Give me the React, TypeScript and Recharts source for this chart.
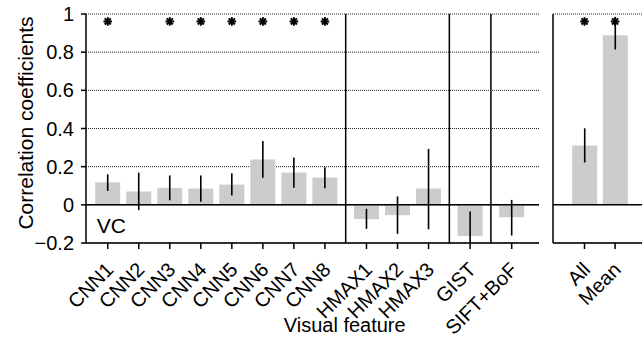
import React from 'react';
import {
  ComposedChart,
  Bar,
  ErrorBar,
  XAxis,
  YAxis,
  CartesianGrid,
  ReferenceLine,
  Scatter,
} from 'recharts';

// ---------- data ----------
const featureGroups: string[][] = [
  ['CNN1', 'CNN2', 'CNN3', 'CNN4', 'CNN5', 'CNN6', 'CNN7', 'CNN8'],
  ['HMAX1', 'HMAX2', 'HMAX3'],
  ['GIST'],
  ['SIFT+BoF'],
];
const featureMeans = [0.118, 0.07, 0.089, 0.085, 0.106, 0.237, 0.169, 0.143, -0.075, -0.054, 0.085, -0.164, -0.065];
const featureLow = [0.073, -0.028, 0.024, 0.016, 0.049, 0.142, 0.089, 0.087, -0.126, -0.152, -0.128, -0.2, -0.161];
const featureHigh = [0.16, 0.169, 0.154, 0.154, 0.166, 0.335, 0.248, 0.197, -0.021, 0.044, 0.293, -0.035, 0.026];
const featureSig = [true, false, true, true, true, true, true, true, false, false, false, false, false];

const summaryLabels = ['All', 'Mean'];
const summaryMeans = [0.311, 0.889];
const summaryLow = [0.222, 0.814];
const summaryHigh = [0.401, 0.985];
const summarySig = [true, true];

const yTicks = [-0.2, 0, 0.2, 0.4, 0.6, 0.8, 1];

// ---------- layout helpers ----------
const FONT = '"Liberation Sans", Arial, Helvetica, sans-serif';
const GROUP_GAP = 0.34;
const STAR_Y = 0.961;
const Y_DOMAIN: [number, number] = [-0.2, 1];

type Row = { pos: number; name: string; mean: number; err: [number, number]; star: number | null };

const featureRows: Row[] = [];
const separators: number[] = [];
{
  let p = 0;
  let k = 0;
  featureGroups.forEach((g, gi) => {
    if (gi > 0) {
      const prev = featureRows[featureRows.length - 1].pos;
      p += GROUP_GAP;
      separators.push((prev + p) / 2);
    }
    g.forEach((name) => {
      featureRows.push({
        pos: p,
        name,
        mean: featureMeans[k],
        err: [featureMeans[k] - featureLow[k], featureHigh[k] - featureMeans[k]],
        star: featureSig[k] ? STAR_Y : null,
      });
      p += 1;
      k += 1;
    });
  });
}

const summaryRows: Row[] = summaryLabels.map((name, i) => ({
  pos: i,
  name,
  mean: summaryMeans[i],
  err: [summaryMeans[i] - summaryLow[i], summaryHigh[i] - summaryMeans[i]],
  star: summarySig[i] ? STAR_Y : null,
}));

const fmtY = (v: number) => {
  if (v === 0) return '0';
  if (v < 0) return '\u2212' + String(Math.abs(v));
  return String(v);
};

const makeTick = (rows: Row[]) => (props: any) => {
  const { x, y, payload } = props;
  const r = rows.find((d) => Math.abs(d.pos - payload.value) < 1e-6);
  const rx = x + 2;
  const ry = y + 15;
  return (
    <text
      x={rx}
      y={ry}
      dy="0.35em"
      transform={`rotate(-45, ${rx}, ${ry})`}
      textAnchor="end"
      fontSize={20}
      fontFamily={FONT}
      fill="#000"
    >
      {r ? r.name : ''}
    </text>
  );
};

const Star = (props: any) => {
  const { cx, cy } = props;
  if (cx == null || cy == null) return null;
  const r = 4.3;
  return (
    <g stroke="#000" strokeWidth={2}>
      {[0, 45, 90, 135].map((a) => {
        const rad = (a * Math.PI) / 180;
        return (
          <line
            key={a}
            x1={cx - r * Math.cos(rad)}
            y1={cy - r * Math.sin(rad)}
            x2={cx + r * Math.cos(rad)}
            y2={cy + r * Math.sin(rad)}
          />
        );
      })}
    </g>
  );
};

const YLabel = (props: any) => {
  const vb = props.viewBox || {};
  const x = (vb.x ?? 0) + 33;
  const y = (vb.y ?? 0) + (vb.height ?? 0) / 2 - 5.5;
  return (
    <text x={x} y={y} transform={`rotate(-90, ${x}, ${y})`} textAnchor="middle" fontSize={21} fontFamily={FONT} fill="#000">
      Correlation coefficients
    </text>
  );
};

const XLabel = (props: any) => {
  const vb = props.viewBox || {};
  const x = (vb.x ?? 0) + (vb.width ?? 0) / 2 + 32.2;
  const y = (vb.y ?? 0) + 88.5;
  return (
    <text x={x} y={y} textAnchor="middle" fontSize={20} fontFamily={FONT} fill="#000">
      Visual feature
    </text>
  );
};

const VCLabel = (props: any) => {
  const vb = props.viewBox || {};
  return (
    <text x={(vb.x ?? 0) + 10.7} y={(vb.y ?? 0) + 28.3} fontSize={21} fontFamily={FONT} fill="#000">
      VC
    </text>
  );
};

const W = 643;
const H = 339;
const RIGHT_LEFT = 530;

export default function App() {
  const starRowsF = featureRows.filter((r) => r.star !== null);
  const starRowsS = summaryRows.filter((r) => r.star !== null);
  const FeatureTick = makeTick(featureRows);
  const SummaryTick = makeTick(summaryRows);
  const lastPos = featureRows[featureRows.length - 1].pos;

  return (
    <div style={{ position: 'absolute', left: 0, top: 0, width: W, height: H, background: '#fff', fontFamily: FONT }}>
      <div style={{ position: 'absolute', left: 0, top: 0 }}>
        <ComposedChart width={W} height={H} data={featureRows} margin={{ top: 14, right: 104, bottom: 0, left: 0 }}>
          <CartesianGrid horizontal vertical={false} stroke="#222" strokeDasharray="1 1" />
          <XAxis
            type="number"
            dataKey="pos"
            domain={[-0.7, lastPos + 0.88]}
            allowDataOverflow
            ticks={featureRows.map((r) => r.pos)}
            interval={0}
            height={96}
            tick={<FeatureTick />}
            tickSize={6}
            axisLine={{ stroke: '#000', strokeWidth: 1.5 }}
            tickLine={{ stroke: '#000', strokeWidth: 1.5 }}
            label={<XLabel />}
          />
          <YAxis
            type="number"
            domain={Y_DOMAIN}
            allowDataOverflow
            ticks={yTicks}
            interval={0}
            width={86}
            tickFormatter={fmtY}
            tickSize={5}
            tickMargin={7}
            tick={{ fontSize: 20, fill: '#000', fontFamily: FONT }}
            axisLine={{ stroke: '#000', strokeWidth: 1.5 }}
            tickLine={{ stroke: '#000', strokeWidth: 1.5 }}
            label={<YLabel />}
          />
          <Bar dataKey="mean" fill="#cccccc" barSize={25} isAnimationActive={false}>
            <ErrorBar dataKey="err" direction="y" width={0} stroke="#000" strokeWidth={1.6} />
          </Bar>
          <ReferenceLine y={0} stroke="#000" strokeWidth={1.5} label={<VCLabel />} />
          {separators.map((s) => (
            <ReferenceLine key={s} x={s} stroke="#000" strokeWidth={1.5} />
          ))}
          <Scatter data={starRowsF} dataKey="star" shape={<Star />} isAnimationActive={false} />
        </ComposedChart>
      </div>
      <div style={{ position: 'absolute', left: RIGHT_LEFT, top: 0 }}>
        <ComposedChart width={W - RIGHT_LEFT} height={H} data={summaryRows} margin={{ top: 14, right: 1, bottom: 0, left: 0 }}>
          <CartesianGrid horizontal vertical={false} stroke="#222" strokeDasharray="1 1" />
          <XAxis
            type="number"
            dataKey="pos"
            domain={[-1.03, 1.88]}
            allowDataOverflow
            ticks={summaryRows.map((r) => r.pos)}
            interval={0}
            height={96}
            tick={<SummaryTick />}
            tickSize={6}
            axisLine={{ stroke: '#000', strokeWidth: 1.5 }}
            tickLine={{ stroke: '#000', strokeWidth: 1.5 }}
          />
          <YAxis
            type="number"
            domain={Y_DOMAIN}
            allowDataOverflow
            ticks={yTicks}
            width={553 - RIGHT_LEFT}
            tick={false}
            tickLine={false}
            axisLine={{ stroke: '#000', strokeWidth: 1.5 }}
          />
          <Bar dataKey="mean" fill="#cccccc" barSize={25} isAnimationActive={false}>
            <ErrorBar dataKey="err" direction="y" width={0} stroke="#000" strokeWidth={1.6} />
          </Bar>
          <ReferenceLine y={0} stroke="#000" strokeWidth={1.5} />
          <Scatter data={starRowsS} dataKey="star" shape={<Star />} isAnimationActive={false} />
        </ComposedChart>
      </div>
    </div>
  );
}
